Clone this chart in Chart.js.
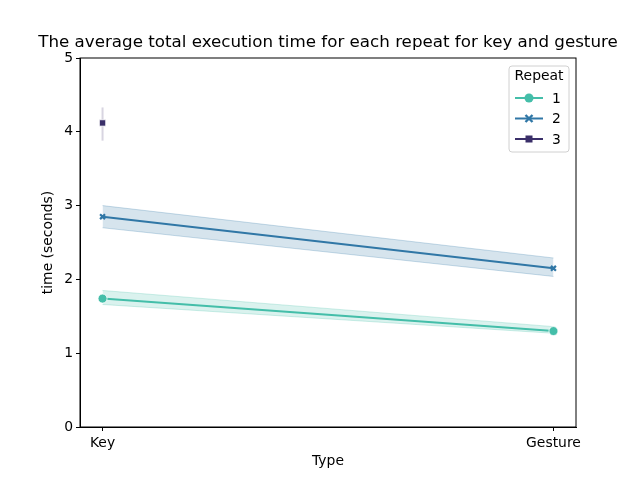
<!DOCTYPE html>
<html>
<head>
<meta charset="utf-8">
<script src="https://cdn.jsdelivr.net/npm/chart.js@4/dist/chart.umd.min.js"></script>
<style>
  html, body { margin: 0; padding: 0; background: #fff; }
  #wrap { width: 640px; height: 480px; }
</style>
</head>
<body>
<div id="wrap"><canvas id="chart" width="640" height="480"></canvas></div>
<script>
// Data
const categories = ['Key', 'Gesture'];
const repeats = ['1', '2', '3'];
const yTicks = [0, 1, 2, 3, 4, 5];
const chartTitle = 'The average total execution time for each repeat for key and gesture';

const meanR1 = [1.74, 1.30];
const lowR1 = [1.66, 1.27];
const highR1 = [1.85, 1.36];

const meanR2 = [2.85, 2.15];
const lowR2 = [2.70, 2.04];
const highR2 = [3.00, 2.29];

const meanR3 = [4.12, null];
const lowR3 = [3.88, null];
const highR3 = [4.33, null];

const colors = ['#44bea9', '#3077a6', '#3a2f69'];
const markers = ['circle', 'crossRot', 'rect'];
const FONT = 'DejaVu Sans';

const toPoints = (arr) => arr.map((v, i) => ({ x: i, y: v })).filter(p => p.y !== null);

const alpha = (hex, a) => {
    const n = parseInt(hex.slice(1), 16);
    return `rgba(${(n >> 16) & 255}, ${(n >> 8) & 255}, ${n & 255}, ${a})`;
};

// band = low line + high line filled to it, then the mean line
const bandSets = (low, high, color) => [
    { data: toPoints(low), borderWidth: 1, borderColor: alpha(color, 0.25), pointRadius: 0, fill: false, order: 5 },
    { data: toPoints(high), borderWidth: 1, borderColor: alpha(color, 0.25), pointRadius: 0, fill: '-1', backgroundColor: alpha(color, 0.2), order: 5 }
];

const meanSet = (mean, i) => ({
    label: repeats[i],
    data: toPoints(mean),
    borderColor: colors[i],
    backgroundColor: colors[i],
    borderWidth: 2,
    pointStyle: markers[i],
    pointRadius: i === 1 ? 3.5 : 4.5,
    pointBorderWidth: i === 1 ? 2.2 : 0.8,
    pointBorderColor: i === 1 ? colors[i] : '#fff',
    fill: false,
    order: 1
});

// single point for repeat 3: vertical error bar
const errBar = {
    data: [{ x: 0, y: lowR3[0] }, { x: 0, y: highR3[0] }],
    borderColor: alpha(colors[2], 0.2),
    borderWidth: 2,
    pointRadius: 0,
    fill: false,
    order: 5
};

const datasets = [
    ...bandSets(lowR1, highR1, colors[0]),
    ...bandSets(lowR2, highR2, colors[1]),
    errBar,
    meanSet(meanR1, 0),
    meanSet(meanR2, 1),
    meanSet(meanR3, 2)
];

// frame, title over the plot area, legend inside the plot
const framePlugin = {
    id: 'frame',
    afterDraw(chart) {
        const { ctx, chartArea: a } = chart;
        ctx.save();
        ctx.strokeStyle = '#000';
        ctx.lineWidth = 1;
        ctx.strokeRect(a.left, a.top, a.right - a.left, a.bottom - a.top);

        ctx.fillStyle = '#000';
        ctx.font = `16.7px "${FONT}"`;
        ctx.textAlign = 'center';
        ctx.textBaseline = 'middle';
        ctx.fillText(chartTitle, (a.left + a.right) / 2, a.top - 15);

        // legend
        const bx = a.right - 67, by = a.top + 8, bw = 60, bh = 86;
        ctx.fillStyle = 'rgba(255,255,255,0.8)';
        ctx.strokeStyle = '#d0d0d0';
        ctx.beginPath();
        ctx.roundRect(bx, by, bw, bh, 3);
        ctx.fill();
        ctx.stroke();
        ctx.fillStyle = '#000';
        ctx.font = `13.9px "${FONT}"`;
        ctx.fillText('Repeat', bx + bw / 2, by + 10);
        repeats.forEach((r, i) => {
            const y = by + 32 + i * 20.5;
            ctx.strokeStyle = colors[i];
            ctx.lineWidth = 2;
            ctx.beginPath();
            ctx.moveTo(bx + 6, y);
            ctx.lineTo(bx + 34, y);
            ctx.stroke();
            ctx.fillStyle = colors[i];
            if (i === 0) {
                ctx.beginPath();
                ctx.arc(bx + 20, y, 4.5, 0, Math.PI * 2);
                ctx.fill();
            } else if (i === 1) {
                ctx.lineWidth = 2.4;
                ctx.beginPath();
                ctx.moveTo(bx + 16.5, y - 3.5); ctx.lineTo(bx + 23.5, y + 3.5);
                ctx.moveTo(bx + 23.5, y - 3.5); ctx.lineTo(bx + 16.5, y + 3.5);
                ctx.stroke();
            } else {
                ctx.fillRect(bx + 16.5, y - 3.5, 7, 7);
            }
            ctx.fillStyle = '#000';
            ctx.textAlign = 'left';
            ctx.fillText(r, bx + 43, y + 1);
            ctx.textAlign = 'center';
        });
        ctx.restore();
    }
};

new Chart(document.getElementById('chart').getContext('2d'), {
    type: 'line',
    data: { datasets },
    options: {
        responsive: false,
        animation: false,
        layout: { padding: { left: 0, right: 64, top: 58, bottom: 0 } },
        plugins: {
            legend: { display: false },
            tooltip: { enabled: false },
            title: { display: false }
        },
        scales: {
            x: {
                type: 'linear',
                min: -0.05,
                max: 1.05,
                afterBuildTicks: (s) => { s.ticks = categories.map((c, i) => ({ value: i })); },
                afterFit: (s) => { s.height = 53; },
                ticks: {
                    callback: (v) => categories[v],
                    color: '#000',
                    font: { family: FONT, size: 13.9 },
                    padding: 4,
                    maxRotation: 0,
                    autoSkip: false
                },
                grid: { display: true, drawOnChartArea: false, drawTicks: true, tickLength: 4, color: '#000' },
                border: { display: true, color: '#000' },
                title: {
                    display: true,
                    text: 'Type',
                    color: '#000',
                    font: { family: FONT, size: 13.9 },
                    padding: { top: 2, bottom: 10 }
                }
            },
            y: {
                min: 0,
                max: 5,
                afterBuildTicks: (s) => { s.ticks = yTicks.map(v => ({ value: v })); },
                afterFit: (s) => { s.width = 80; },
                ticks: {
                    color: '#000',
                    font: { family: FONT, size: 13.9 },
                    padding: 3
                },
                grid: { display: true, drawOnChartArea: false, drawTicks: true, tickLength: 4, color: '#000' },
                border: { display: true, color: '#000' },
                title: {
                    display: true,
                    text: 'time (seconds)',
                    color: '#000',
                    font: { family: FONT, size: 13.9 },
                    padding: { top: 40, bottom: 0 }
                }
            }
        }
    },
    plugins: [framePlugin]
});
</script>
</body>
</html>
